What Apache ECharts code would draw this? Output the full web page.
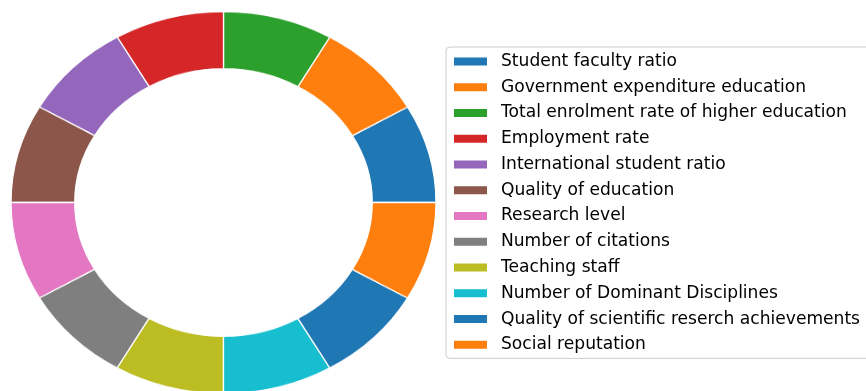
<!DOCTYPE html>
<html>
<head>
<meta charset="utf-8">
<script src="https://cdn.jsdelivr.net/npm/echarts@6/dist/echarts.min.js"></script>
<style>
  html, body { margin: 0; padding: 0; background: #fff; overflow: hidden; }
  #stage { position: relative; width: 866px; height: 391px; overflow: hidden; background: #fff; }
  /* the ring is drawn in a square box and squeezed vertically into an ellipse */
  #ring { position: absolute; left: 0; top: -10.5px; width: 447px; height: 425px;
          transform: scaleY(0.8988); transform-origin: 50% 50%; }
  #key { position: absolute; left: 0; top: 0; width: 866px; height: 391px; }
</style>
</head>
<body>
<div id="stage"><div id="ring"></div><div id="key"></div></div>
<script>
// Evaluation indicators, each given the same weight
const categories = [
  'Student faculty ratio',
  'Government expenditure education',
  'Total enrolment rate of higher education',
  'Employment rate',
  'International student ratio',
  'Quality of education',
  'Research level',
  'Number of citations',
  'Teaching staff',
  'Number of Dominant Disciplines',
  'Quality of scientific reserch achievements',
  'Social reputation'
];
const weights = [1, 1, 1, 1, 1, 1, 1, 1, 1, 1, 1, 1];
const palette = [
  '#1f77b4', '#ff7f0e', '#2ca02c', '#d62728', '#9467bd', '#8c564b',
  '#e377c2', '#7f7f7f', '#bcbd22', '#17becf', '#1f77b4', '#ff7f0e'
];

const pieData = categories.map((name, i) => ({ name: name, value: weights[i] }));
const fontFamily = '"DejaVu Sans", "Liberation Sans", sans-serif';

// Donut ring
const ring = echarts.init(document.getElementById('ring'), null, { renderer: 'canvas' });
ring.setOption({
  animation: false,
  color: palette,
  series: [{
    type: 'pie',
    center: ['50%', '50%'],
    radius: [148.75, 212.5],
    startAngle: 0,
    clockwise: false,
    silent: true,
    label: { show: false },
    labelLine: { show: false },
    emphasis: { disabled: true },
    itemStyle: { borderColor: '#ffffff', borderWidth: 1.3 },
    data: pieData
  }]
});

// Legend panel
const key = echarts.init(document.getElementById('key'), null, { renderer: 'canvas' });
key.setOption({
  animation: false,
  color: palette,
  legend: {
    orient: 'vertical',
    left: 446,
    top: 47,
    padding: [6, 30, 5, 8],
    backgroundColor: 'rgba(255,255,255,0.8)',
    borderColor: '#cccccc',
    borderWidth: 1,
    borderRadius: 4,
    icon: 'rect',
    itemWidth: 33,
    itemHeight: 8,
    itemGap: 8.76,
    selectedMode: false,
    data: categories,
    textStyle: {
      color: '#000000',
      fontFamily: fontFamily,
      fontSize: 17.1,
      lineHeight: 17,
      padding: [0, 0, 0, 9]
    }
  },
  series: [{
    type: 'pie',
    center: [-600, -600],
    radius: [0, 1],
    silent: true,
    label: { show: false },
    labelLine: { show: false },
    data: pieData
  }]
});
</script>
</body>
</html>
